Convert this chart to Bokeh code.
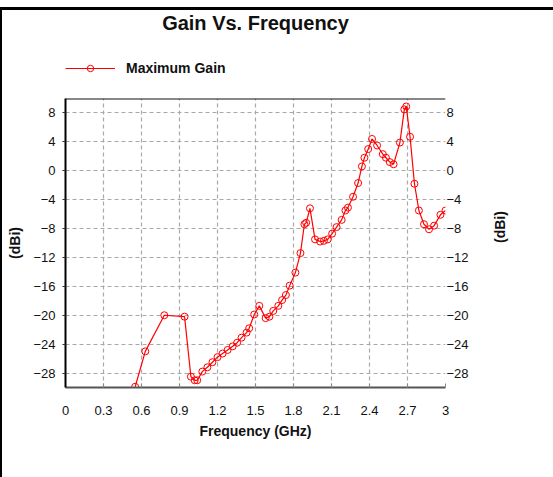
import math
from bokeh.plotting import figure
from bokeh.layouts import column
from bokeh.models import (LinearAxis, FixedTicker, Range1d, Legend,
                          LegendItem, Span, Label)
from bokeh.embed import file_html
from bokeh.resources import INLINE

# ---- data ----
freq = [0.55, 0.63, 0.78, 0.94, 0.99, 1.02, 1.04, 1.08, 1.12, 1.16, 1.20,
        1.24, 1.28, 1.32, 1.355, 1.39, 1.43, 1.45, 1.49, 1.53, 1.58, 1.61,
        1.64, 1.68, 1.71, 1.74, 1.77, 1.815, 1.855, 1.886, 1.90, 1.93, 1.97,
        2.01, 2.04, 2.07, 2.105, 2.14, 2.18, 2.21, 2.23, 2.27, 2.31, 2.34,
        2.36, 2.39, 2.42, 2.46, 2.505, 2.53, 2.56, 2.59, 2.64, 2.675, 2.69,
        2.72, 2.755, 2.79, 2.83, 2.87, 2.91, 2.96, 3.0]
gain = [-29.9, -25.0, -20.0, -20.2, -28.5, -29.0, -29.0, -27.8, -27.2, -26.5,
        -25.8, -25.3, -24.8, -24.3, -23.8, -23.1, -22.4, -21.8, -19.9, -18.7,
        -20.4, -20.2, -19.4, -18.7, -17.9, -17.2, -15.9, -14.1, -11.4, -7.4,
        -7.2, -5.2, -9.5, -9.8, -9.7, -9.5, -8.7, -7.8, -6.8, -5.5, -5.1,
        -3.6, -1.7, 0.6, 1.8, 3.0, 4.4, 3.5, 2.3, 1.8, 1.2, 0.9, 3.9, 8.5,
        8.9, 4.7, -1.8, -5.5, -7.4, -8.1, -7.6, -6.1, -5.5]
x_ticks = [0, 0.3, 0.6, 0.9, 1.2, 1.5, 1.8, 2.1, 2.4, 2.7, 3.0]
x_tick_labels = ["0", "0.3", "0.6", "0.9", "1.2", "1.5", "1.8", "2.1", "2.4",
                 "2.7", "3"]
y_ticks = [-28, -24, -20, -16, -12, -8, -4, 0, 4, 8]
title_text = "Gain Vs. Frequency"
series_name = "Maximum Gain"
x_title = "Frequency (GHz)"
y_title = "(dBi)"

FONT = "Liberation Sans"
W = 551
HEAD_H = 80

# ---------------- header (title + legend) ----------------
# (its frame is aligned with the chart frame by the column layout)
head = figure(width=W, height=HEAD_H, x_range=Range1d(0, 1), y_range=Range1d(0, HEAD_H),
              output_backend="svg", toolbar_location=None, title=None,
              x_axis_type=None, y_axis_type=None,
              min_border=0, min_border_left=0, min_border_right=0,
              min_border_top=0, min_border_bottom=0)
head.outline_line_color = None
head.grid.visible = False
head.extra_y_ranges = {"hidden": Range1d(1000, 1001)}

head.add_layout(Label(x=0.5, y=HEAD_H - 12, text=title_text, text_align="center",
                      text_baseline="middle", text_font=FONT, text_font_size="20px",
                      text_font_style="bold", text_color="#111111"))

h_line = head.line(freq, gain, line_color="red", line_width=1.2, y_range_name="hidden")
h_sc = head.scatter(freq, gain, marker="circle", size=7, fill_color=None,
                    line_color="red", line_width=1, y_range_name="hidden")
legend = Legend(items=[LegendItem(label=series_name, renderers=[h_line, h_sc])],
                location=(0, 14), glyph_width=50, glyph_height=16,
                label_text_font=FONT, label_text_font_size="14px",
                label_text_font_style="bold", label_text_color="#111111",
                padding=0, margin=0, spacing=0, label_standoff=11,
                border_line_color=None, background_fill_alpha=0)
head.add_layout(legend)

# ---------------- main chart ----------------
p = figure(width=W, height=387, x_range=Range1d(0, 3), y_range=Range1d(-30, 10),
           output_backend="svg", toolbar_location=None, title=None,
           min_border_left=63, min_border_right=108, min_border_top=8,
           min_border_bottom=90)
p.outline_line_color = None
p.background_fill_color = "white"
p.border_fill_color = "white"

# grids
p.xgrid.ticker = FixedTicker(ticks=x_ticks)
p.ygrid.ticker = FixedTicker(ticks=y_ticks)
for g in (p.xgrid, p.ygrid):
    g.grid_line_color = "#a8a8a8"
    g.grid_line_dash = "4 3"
    g.grid_line_width = 1.2

# bottom axis
xa = p.xaxis[0]
xa.ticker = FixedTicker(ticks=x_ticks)
xa.major_label_overrides = {t: l for t, l in zip(x_ticks, x_tick_labels)}
xa.axis_label = x_title
xa.axis_line_color = "#555555"
xa.axis_line_width = 2
xa.major_tick_in = 4
xa.major_tick_out = 0
xa.major_tick_line_color = "#888888"
xa.minor_tick_line_color = None
xa.major_label_standoff = 18
xa.axis_label_standoff = 5

# left axis
ya = p.yaxis[0]
ya.ticker = FixedTicker(ticks=y_ticks)
ya.axis_label = y_title
ya.axis_line_color = "black"
ya.axis_line_width = 2
ya.major_tick_in = 0
ya.major_tick_out = 3
ya.major_tick_line_color = "#333333"
ya.minor_tick_line_color = None
ya.major_label_standoff = 7
ya.axis_label_standoff = 7

# right axis
ra = LinearAxis(ticker=FixedTicker(ticks=y_ticks), axis_label=y_title)
ra.axis_line_color = None
ra.major_tick_line_color = None
ra.minor_tick_line_color = None
ra.major_tick_in = 0
ra.major_tick_out = 0
ra.major_label_standoff = 1
ra.axis_label_standoff = 28
ra.axis_label_orientation = math.pi / 2
p.add_layout(ra, "right")

for ax in (xa, ya, ra):
    ax.major_label_text_font = FONT
    ax.major_label_text_font_size = "13px"
    ax.major_label_text_color = "#111111"
    ax.axis_label_text_font = FONT
    ax.axis_label_text_font_size = "14px"
    ax.axis_label_text_font_style = "bold"
    ax.axis_label_text_color = "#111111"

# top border of plotting area
p.add_layout(Span(location=10, dimension="width", line_color="#111111", line_width=2))

# data
p.line(freq, gain, line_color="red", line_width=1.2)
p.scatter(freq, gain, marker="circle", size=7, fill_color=None,
          line_color="red", line_width=1)

layout = column(head, p, spacing=0,
                styles={"border-left": "2px solid black", "border-top": "3px solid black",
                        "margin-top": "7px"})

open("out.html", "w").write(file_html(layout, INLINE))
